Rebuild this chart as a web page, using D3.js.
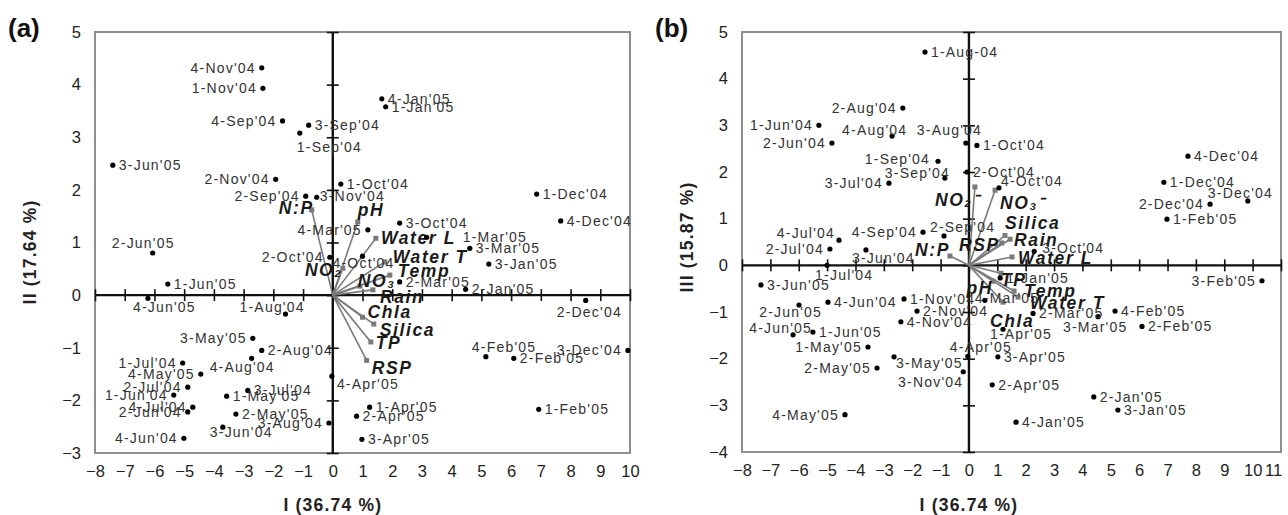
<!DOCTYPE html>
<html><head><meta charset="utf-8">
<script src="https://cdn.jsdelivr.net/npm/d3@7"></script>
<style>
body{margin:0;background:#fff;}
svg{display:block;font-family:"Liberation Sans",Arial,sans-serif;}
</style></head>
<body><svg id="c" width="1288" height="515"></svg>
<script>
// ---------------- DATA ----------------
// Panel (a): PC I vs PC II
const samplesA = ["4-Nov'04","1-Nov'04","4-Sep'04","3-Sep'04","1-Sep'04","3-Jun'05","2-Nov'04","2-Sep'04","3-Nov'04","1-Oct'04",
"4-Jan'05","1-Jan'05","1-Dec'04","4-Dec'04","3-Oct'04","4-Mar'05","1-Mar'05","3-Mar'05","3-Jan'05","2-Mar'05","2-Jan'05",
"2-Oct'04","4-Oct'04","2-Jun'05","1-Jun'05","4-Jun'05","1-Aug'04","3-May'05","2-Aug'04","1-Jul'04","4-Aug'04","4-May'05",
"2-Jul'04","1-Jun'04","4-Jul'04","2-Jun'04","4-Jun'04","3-Jul'04","1-May'05","2-May'05","3-Jun'04","3-Aug'04","4-Apr'05",
"1-Apr'05","2-Apr'05","3-Apr'05","4-Feb'05","2-Feb'05","3-Dec'04","1-Feb'05","2-Dec'04"];
const pc1A = [-2.39,-2.35,-1.69,-0.81,-1.11,-7.4,-1.92,-0.91,-0.54,0.27,
1.65,1.78,6.86,7.67,2.25,1.18,3.16,4.61,5.25,2.25,4.47,
-0.1,1.0,-6.06,-5.55,-6.22,-1.59,-2.69,-2.39,-5.05,-2.73,-4.44,
-4.88,-5.35,-4.71,-4.88,-5.01,-2.86,-3.57,-3.26,-3.7,-0.13,-0.03,
1.24,0.8,0.98,5.15,6.09,9.93,6.93,8.51];
const pc2A = [4.32,3.93,3.31,3.23,3.08,2.47,2.2,1.88,1.86,2.11,
3.73,3.58,1.92,1.41,1.37,1.24,1.10,0.89,0.59,0.25,0.11,
0.72,0.74,0.8,0.21,-0.06,-0.36,-0.82,-1.05,-1.29,-1.2,-1.5,
-1.75,-1.9,-2.13,-2.22,-2.72,-1.81,-1.92,-2.26,-2.51,-2.43,-1.54,
-2.13,-2.3,-2.74,-1.17,-1.2,-1.05,-2.17,-0.1];
const varsA = ["N:P","pH","Water L","Water T","Temp","NO₃","NO₂","Rain","Chla","Silica","TP","RSP"];
const varPc1A = [-0.71,0.84,1.45,1.75,1.92,0.91,0.34,1.35,1.0,1.38,1.28,1.14];
const varPc2A = [1.62,1.39,1.08,0.63,0.38,0.17,0.51,0.1,-0.42,-0.55,-0.89,-1.24];

// Panel (b): PC I vs PC III
const samplesB = ["1-Aug-04","2-Aug'04","1-Jun'04","4-Aug'04","3-Aug'04","2-Jun'04","1-Oct'04","1-Sep'04","3-Sep'04","3-Jul'04",
"2-Oct'04","4-Oct'04","4-Dec'04","1-Dec'04","3-Dec'04","2-Dec'04","1-Feb'05","4-Jul'04","4-Sep'04","2-Sep'04",
"2-Jul'04","3-Jun'04","1-Jul'04","3-Jun'05","4-Jun'04","2-Jun'05","1-Nov'04","2-Nov'04","4-Nov'04","4-Jun'05",
"1-Jun'05","1-May'05","2-May'05","3-May'05","3-Nov'04","4-May'05","4-Apr'05","3-Apr'05","2-Apr'05","1-Apr'05",
"4-Jan'05","2-Jan'05","3-Jan'05","4-Feb'05","2-Feb'05","3-Feb'05","3-Mar'05","2-Mar'05","1-Jan'05","4-Mar'05","3-Oct'04"];
const pc1B = [-1.55,-2.33,-5.29,-2.71,-0.11,-4.83,0.28,-1.09,-0.85,-2.82,
-0.07,1.06,7.72,6.87,9.83,8.5,6.98,-4.58,-1.62,-0.88,
-4.9,-3.63,-5.0,-7.33,-4.97,-5.99,-2.29,-1.83,-2.4,-6.2,
-5.5,-3.56,-3.24,-2.64,-0.2,-4.37,-0.04,1.02,0.82,1.2,
1.66,4.4,5.25,5.15,6.1,10.33,4.55,2.26,1.1,0.56,2.3];
const pc3B = [4.57,3.37,3.0,2.77,2.62,2.62,2.57,2.23,1.87,1.76,
2.0,1.66,2.34,1.78,1.38,1.31,0.99,0.54,0.71,0.63,
0.35,0.33,0.0,-0.42,-0.79,-0.85,-0.72,-0.98,-1.21,-1.49,
-1.43,-1.75,-2.2,-1.96,-2.28,-3.2,-1.95,-1.96,-2.56,-1.37,
-3.36,-2.82,-3.1,-0.98,-1.31,-0.33,-1.1,-1.03,-0.27,-0.75,0.3];
const varsB = ["NO₂⁻","NO₃⁻","Silica","Rain","RSP","N:P","Water L","TP","pH","Temp","Water T","Chla"];
const varPc1B = [0.21,0.92,1.27,1.45,1.16,-0.67,1.52,1.13,0.85,1.59,1.73,1.2];
const varPc3B = [1.68,1.61,0.64,0.56,0.48,0.2,0.18,-0.17,-0.34,-0.55,-0.68,-0.79];

const xTicksA = d3.range(-8, 11), yTicksA = d3.range(-3, 6);
const xTicksB = d3.range(-8, 12), yTicksB = d3.range(-4, 6);

// ---------------- LABEL LAYOUT (offsets in px: [dx, dy, anchor]) ----------------
const R = [6, 0, "start"], L = [-6, 0, "end"];
const labA = {"3-Sep'04":R,"1-Sep'04":[-3,14,"start"],"3-Jun'05":R,"3-Nov'04":[3,-1,"start"],"1-Oct'04":R,
"4-Jan'05":R,"1-Jan'05":R,"1-Dec'04":R,"4-Dec'04":R,"3-Oct'04":R,"1-Mar'05":[36,0,"start"],"3-Mar'05":R,"3-Jan'05":R,
"2-Mar'05":R,"2-Jan'05":R,"4-Oct'04":[-30,7,"start"],"2-Jun'05":[22,-10,"end"],"1-Jun'05":R,"4-Jun'05":[-15,9,"start"],
"1-Aug'04":[-46,-7,"start"],"2-Aug'04":R,"4-Aug'04":[-42,9,"start"],"3-Jul'04":R,"1-May'05":R,"2-May'05":R,
"3-Jun'04":[-13,5,"start"],"4-Apr'05":[5,8,"start"],"1-Apr'05":R,"2-Apr'05":R,"3-Apr'05":R,"4-Feb'05":[-14,-10,"start"],
"2-Feb'05":R,"1-Feb'05":R,"2-Dec'04":[-29,12,"start"]};
const labB = {"1-Aug-04":R,"4-Aug'04":[-50,-6,"start"],"3-Aug'04":[-49,-13,"start"],"1-Oct'04":R,"1-Sep'04":[-8,-2,"end"],
"3-Sep'04":[-60,-5,"start"],"2-Oct'04":R,"4-Oct'04":[2,-7,"start"],"4-Dec'04":R,"1-Dec'04":R,"3-Dec'04":[-40,-8,"start"],
"1-Feb'05":R,"4-Jul'04":[-4,-7,"end"],"2-Sep'04":[-14,-9,"start"],"3-Jun'04":[-14,8,"start"],"1-Jul'04":[-12,10,"start"],
"3-Jun'05":R,"4-Jun'04":R,"2-Jun'05":[23,7,"end"],"1-Nov'04":R,"2-Nov'04":R,"4-Nov'04":R,"4-Jun'05":[19,-7,"end"],
"1-Jun'05":R,"3-May'05":[2,6,"start"],"3-Nov'04":[0,10,"end"],"4-Apr'05":[-18,-9,"start"],"3-Apr'05":R,"2-Apr'05":R,
"1-Apr'05":[-13,5,"start"],"4-Jan'05":R,"2-Jan'05":R,"3-Jan'05":R,"4-Feb'05":R,"2-Feb'05":R,"3-Mar'05":[-35,10,"start"],
"2-Mar'05":R,"1-Jan'05":R,"4-Mar'05":[-10,-2,"start"],"3-Oct'04":[8,-3,"start"]};
const vlabA = {"N:P":[2,-2,"end"],"pH":[0,-12,"start"],"Water L":[5,0,"start"],"Water T":[8,-5,"start"],"Temp":[8,-4,"start"],
"NO₃":[-2,-5,"start"],"NO₂":[-38,2,"start"],"Rain":[7,7,"start"],"Chla":[5,-5,"start"],"Silica":[6,6,"start"],"TP":[5,1,"start"],"RSP":[5,8,"start"]};
const vlabB = {"NO₂⁻":[-40,13,"start"],"NO₃⁻":[5,13,"start"],"Silica":[0,-12,"start"],"Rain":[4,1,"start"],"RSP":[-2,2,"end"],
"N:P":[0,-6,"end"],"Water L":[6,1,"start"],"TP":[0,7,"start"],"pH":[0,7,"end"],"Temp":[10,0,"start"],"Water T":[12,6,"start"],"Chla":[-13,19,"start"]};

// ---------------- DRAW ----------------
const svg = d3.select("#c");

function panel(o){
  const x = d3.scaleLinear().domain(o.xd).range(o.xr);
  const y = d3.scaleLinear().domain(o.yd).range(o.yr);
  const g = svg.append("g");
  g.append("rect").attr("x",o.xr[0]).attr("y",o.yr[1]).attr("width",o.xr[1]-o.xr[0]).attr("height",o.yr[0]-o.yr[1])
    .attr("fill","none").attr("stroke","#8e8e8e").attr("stroke-width",2);
  const xAxis = d3.axisBottom(x).tickValues(o.xt).tickSize(12).tickFormat("");
  const ax = g.append("g").attr("transform",`translate(0,${y(0)-6})`).call(xAxis);
  ax.select(".domain").remove();
  ax.selectAll("line").attr("stroke","#111").attr("stroke-width",1.6);
  g.append("line").attr("x1",o.xr[0]).attr("x2",o.xr[1]).attr("y1",y(0)).attr("y2",y(0)).attr("stroke","#111").attr("stroke-width",2.4);
  const yAxis = d3.axisLeft(y).tickValues(o.yt).tickSize(12).tickFormat("");
  const ay = g.append("g").attr("transform",`translate(${x(0)+6},0)`).call(yAxis);
  ay.select(".domain").remove();
  ay.selectAll("line").attr("stroke","#111").attr("stroke-width",1.6);
  g.append("line").attr("x1",x(0)).attr("x2",x(0)).attr("y1",o.yr[0]).attr("y2",o.yr[1]).attr("stroke","#111").attr("stroke-width",2.4);
  const fmt = v => (v<0?"\u2212":"")+Math.abs(v);
  const bx = d3.axisBottom(x).tickValues(o.xt).tickSize(0).tickPadding(0).tickFormat(fmt);
  const bxg = g.append("g").attr("transform",`translate(0,${o.yr[0]+12})`).call(bx);
  bxg.select(".domain").remove();
  bxg.selectAll("text").attr("font-size",16.5).attr("fill","#222").attr("font-family","Liberation Sans, Arial, sans-serif");
  if (o.lastShift) bxg.selectAll("text").filter(d=>d===o.xt[o.xt.length-1]).attr("dx",o.lastShift);
  const ly = d3.axisLeft(y).tickValues(o.yt).tickSize(0).tickPadding(0).tickFormat(fmt);
  const lyg = g.append("g").attr("transform",`translate(${o.xr[0]-14},0)`).call(ly);
  lyg.select(".domain").remove();
  lyg.selectAll("text").attr("font-size",16.5).attr("fill","#222").attr("font-family","Liberation Sans, Arial, sans-serif");
  o.vn.forEach((n,i)=>{
    const px = x(o.vx[i]), py = y(o.vy[i]);
    g.append("line").attr("x1",x(0)).attr("y1",y(0)).attr("x2",px).attr("y2",py).attr("stroke","#7a7a7a").attr("stroke-width",1.6);
    g.append("rect").attr("x",px-2.5).attr("y",py-2.5).attr("width",5).attr("height",5).attr("fill","#7a7a7a");
  });
  o.vn.forEach((n,i)=>{
    const p = o.vl[n] || R;
    g.append("text").attr("x",x(o.vx[i])+p[0]).attr("y",y(o.vy[i])+p[1]).attr("text-anchor",p[2])
      .attr("dominant-baseline","central").attr("font-size",17.5).attr("font-weight","bold").attr("font-style","italic")
      .attr("letter-spacing",1.6).attr("fill","#1a1a1a").text(n);
  });
  o.sn.forEach((n,i)=>{
    const px = x(o.sx[i]), py = y(o.sy[i]);
    g.append("circle").attr("cx",px).attr("cy",py).attr("r",2.6).attr("fill","#000");
    const p = o.sl[n] || L;
    g.append("text").attr("x",px+p[0]).attr("y",py+p[1]).attr("text-anchor",p[2]).attr("dominant-baseline","central")
      .attr("font-size",14).attr("letter-spacing",1.2).attr("fill","#333").text(n);
  });
  g.append("text").attr("x",x(0)).attr("y",505).attr("text-anchor","middle").attr("dominant-baseline","central")
    .attr("font-size",17.5).attr("font-weight","bold").attr("letter-spacing",1.2).attr("fill","#222").text(o.xtitle);
  g.append("text").attr("transform",`translate(${o.ytx},${o.yty}) rotate(-90)`).attr("text-anchor","middle")
    .attr("dominant-baseline","central").attr("font-size",17.5).attr("font-weight","bold").attr("letter-spacing",1.2)
    .attr("fill","#222").text(o.ytitle);
  g.append("text").attr("x",o.tagx).attr("y",28).attr("dominant-baseline","central").attr("font-size",26)
    .attr("font-weight","bold").attr("fill","#111").text(o.tag);
}

panel({xd:[-8,10],xr:[95,630],yd:[-3,5],yr:[453,32],xt:xTicksA,yt:yTicksA,
  sn:samplesA,sx:pc1A,sy:pc2A,sl:labA,vn:varsA,vx:varPc1A,vy:varPc2A,vl:vlabA,
  xtitle:"I (36.74 %)",ytitle:"II (17.64 %)",ytx:30,yty:252,tag:"(a)",tagx:8});
panel({xd:[-8,11],xr:[742,1281],yd:[-4,5],yr:[452,32],xt:xTicksB,yt:yTicksB,lastShift:-8,
  sn:samplesB,sx:pc1B,sy:pc3B,sl:labB,vn:varsB,vx:varPc1B,vy:varPc3B,vl:vlabB,
  xtitle:"I (36.74 %)",ytitle:"III (15.87 %)",ytx:687,yty:237,tag:"(b)",tagx:655});
</script></body></html>
